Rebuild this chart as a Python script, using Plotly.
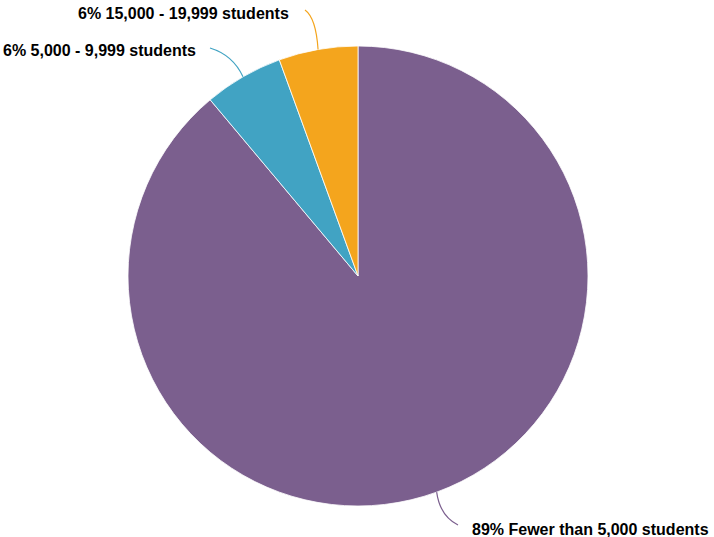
import math
import plotly.graph_objects as go

labels = ["Fewer than 5,000 students", "5,000 - 9,999 students", "15,000 - 19,999 students"]
values = [16, 1, 1]
colors = ["#7b5f8e", "#41a3c3", "#f4a51d"]

W, H = 714, 537
cx, cy, R = 358, 276, 230

fig = go.Figure(go.Pie(
    labels=labels, values=values, sort=False, direction="clockwise", rotation=0,
    marker=dict(colors=colors, line=dict(color="white", width=0.8)),
    textinfo="none", hoverinfo="label+percent", showlegend=False,
    domain=dict(x=[(cx - R) / W, (cx + R) / W], y=[(H - cy - R) / H, (H - cy + R) / H]),
))

# leader line shapes and label offsets (pixel styles)
ctrl = [(440, 516), (233, 55), (316, 18)]
ends = [(458, 525), (210, 48), (305, 10)]
lab_pos = [(470, 529, "left"), (198, 50, "right"), (291, 14, "right")]

total = sum(values)
cum = 0
shapes, annos = [], []
for i, v in enumerate(values):
    mid = (cum + v / 2) / total * 2 * math.pi
    cum += v
    sx = cx + R * math.sin(mid)
    sy = cy - R * math.cos(mid)
    pct = round(v / total * 100)
    px = lambda x: x / W
    py = lambda y: 1 - y / H
    path = f"M {px(sx)} {py(sy)} Q {px(ctrl[i][0])} {py(ctrl[i][1])} {px(ends[i][0])} {py(ends[i][1])}"
    shapes.append(dict(type="path", xref="paper", yref="paper", path=path,
                       line=dict(color=colors[i], width=1.2)))
    lx, ly, anch = lab_pos[i]
    annos.append(dict(x=px(lx), y=py(ly), xref="paper", yref="paper", showarrow=False,
                      xanchor=anch, yanchor="middle",
                      text=f"<b>{pct}% {labels[i]}</b>",
                      font=dict(family="Liberation Sans, Arial, sans-serif", size=16, color="#000")))

fig.update_layout(width=W, height=H, margin=dict(l=0, r=0, t=0, b=0),
                  paper_bgcolor="white", plot_bgcolor="white",
                  shapes=shapes, annotations=annos)
fig.write_html("out.html", config={"displayModeBar": False},
               post_script="document.body.style.margin='0';")
